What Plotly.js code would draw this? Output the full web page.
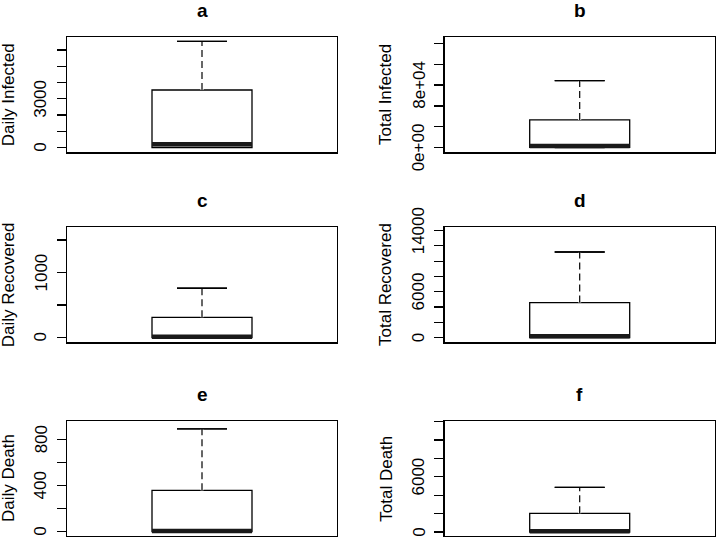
<!DOCTYPE html>
<html>
<head>
<meta charset="utf-8">
<script src="https://cdn.plot.ly/plotly-3.0.1.min.js"></script>
<style>html,body{margin:0;padding:0;background:#fff;}#chart{width:716px;height:537px;}</style>
</head>
<body>
<div id="chart"></div>
<script>
// ---- data ----
const panelLetters = ['a', 'b', 'c', 'd', 'e', 'f'];
const yTitles = ['Daily Infected', 'Total Infected', 'Daily Recovered', 'Total Recovered', 'Daily Death', 'Total Death'];
const minVals    = [0, 0, 0, 0, 0, 0];
const q1Vals     = [10, 300, 0, 0, 0, 0];
const medianVals = [210, 2100, 12, 180, 6, 75];
const q3Vals     = [3540, 35350, 312, 4580, 358, 2030];
const maxVals    = [6530, 85600, 758, 11200, 890, 4860];
const tickVals = [
  [0, 1000, 2000, 3000, 4000, 5000, 6000],
  [0, 26667, 53333, 80000, 106667, 133333],
  [0, 500, 1000, 1500],
  [0, 2000, 4000, 6000, 8000, 10000, 12000, 14000],
  [0, 200, 400, 600, 800],
  [0, 2000, 4000, 6000, 8000, 10000, 12000]
];
const tickLabels = [
  ['0', '', '', '3000', '', '', ''],
  ['0e+00', '', '', '8e+04', '', ''],
  ['0', '', '1000', ''],
  ['0', '', '', '6000', '', '', '', '14000'],
  ['0', '', '400', '', '800'],
  ['0', '', '', '6000', '', '', '']
];
const yRanges = [[-286, 6778], [-5954, 140980], [-72, 1694], [-610, 14432], [-37.5, 959], [-435, 12072]];

// ---- layout geometry (pixels) ----
const W = 716, H = 537;
const colLeft = [67, 444.7], colRight = [337, 714.7];
const rowTop = [37.3, 227.3, 421], rowH = 115;
const px = v => v / W;
const py = v => 1 - v / H;

const data = [];
const layout = {
  width: W, height: H,
  margin: {l: 0, r: 0, t: 0, b: 0},
  paper_bgcolor: '#fff', plot_bgcolor: '#fff',
  showlegend: false,
  annotations: []
};

const axisFont = {family: 'Liberation Sans, Arial, Helvetica, sans-serif', size: 17, color: '#000'};
const titleFont = {family: 'Liberation Sans Narrow, Arial Narrow, Liberation Sans, Arial, sans-serif', size: 19, color: '#000', weight: 'bold'};

for (let i = 0; i < 6; i++) {
  const col = i % 2, row = Math.floor(i / 2);
  const n = i + 1;
  const xa = 'x' + (n === 1 ? '' : n), ya = 'y' + (n === 1 ? '' : n);
  const xKey = 'xaxis' + (n === 1 ? '' : n), yKey = 'yaxis' + (n === 1 ? '' : n);
  const top = rowTop[row], bot = top + rowH;

  layout[xKey] = {
    domain: [px(colLeft[col]), px(colRight[col])],
    range: [0.46, 1.54], anchor: ya,
    showline: true, mirror: true, linecolor: '#000', linewidth: 1.3,
    showticklabels: false, ticks: '', showgrid: false, zeroline: false, fixedrange: true
  };
  layout[yKey] = {
    domain: [py(bot), py(top)],
    range: yRanges[i], anchor: xa,
    tickmode: 'array', tickvals: tickVals[i], ticktext: tickLabels[i],
    ticks: 'outside', ticklen: 9, tickwidth: 1.2, tickcolor: '#000',
    showticklabels: false,
    showline: true, mirror: true, linecolor: '#000', linewidth: 1.3,
    showgrid: false, zeroline: false, fixedrange: true
  };

  data.push({
    type: 'box', xaxis: xa, yaxis: ya,
    x: [1], q1: [q1Vals[i]], median: [medianVals[i]], q3: [q3Vals[i]],
    lowerfence: [minVals[i]], upperfence: [maxVals[i]],
    width: 0.4, whiskerwidth: 0.5, boxpoints: false,
    fillcolor: '#fff', line: {color: '#000', width: 1.3},
    hoverinfo: 'skip'
  });
  // hide the solid whisker, draw a dashed one (R style)
  data.push({
    type: 'scatter', mode: 'lines', xaxis: xa, yaxis: ya,
    x: [1, 1], y: [q3Vals[i], maxVals[i]],
    line: {color: '#fff', width: 3}, hoverinfo: 'skip'
  });
  data.push({
    type: 'scatter', mode: 'lines', xaxis: xa, yaxis: ya,
    x: [1, 1], y: [q3Vals[i], maxVals[i]],
    line: {color: '#000', width: 1.2, dash: '7px,4px'}, hoverinfo: 'skip'
  });
  data.push({
    type: 'scatter', mode: 'lines', xaxis: xa, yaxis: ya,
    x: [0.9, 1.1], y: [maxVals[i], maxVals[i]],
    line: {color: '#000', width: 1.3}, hoverinfo: 'skip'
  });
  // thick median line
  data.push({
    type: 'scatter', mode: 'lines', xaxis: xa, yaxis: ya,
    x: [0.8, 1.2], y: [medianVals[i], medianVals[i]],
    line: {color: '#1a1a1a', width: 4.5}, hoverinfo: 'skip'
  });

  // tick labels, parallel to the axis as in R (las = 0)
  tickVals[i].forEach((v, k) => {
    if (!tickLabels[i][k]) return;
    layout.annotations.push({
      text: tickLabels[i][k], showarrow: false, textangle: -90,
      xref: 'paper', yref: ya, x: px(colLeft[col] - 26), y: v,
      xanchor: 'center', yanchor: 'middle', font: axisFont
    });
  });

  const cx = (colLeft[col] + colRight[col]) / 2;
  layout.annotations.push({
    text: panelLetters[i], showarrow: false,
    xref: 'paper', yref: 'paper', x: px(cx), y: py(top - 26.5),
    xanchor: 'center', yanchor: 'middle', font: titleFont
  });
  layout.annotations.push({
    text: yTitles[i], showarrow: false, textangle: -90,
    xref: 'paper', yref: 'paper', x: px(colLeft[col] - 58.5), y: py(top + rowH / 2),
    xanchor: 'center', yanchor: 'middle', font: axisFont
  });
}

Plotly.newPlot('chart', data, layout, {displayModeBar: false, staticPlot: true});
</script>
</body>
</html>
